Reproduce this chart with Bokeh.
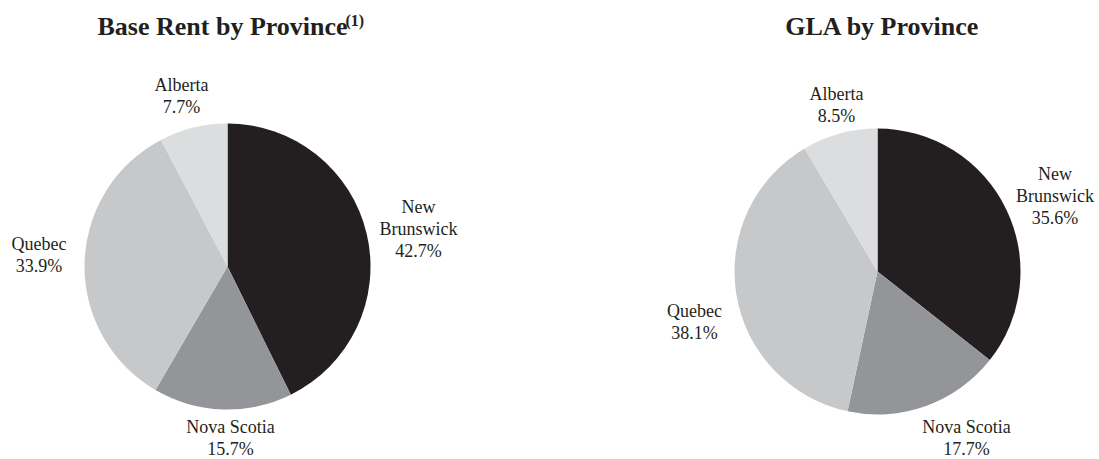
import math
from bokeh.plotting import figure
from bokeh.models import Range1d, ColumnDataSource
from bokeh.core.properties import value
from bokeh.embed import file_html
from bokeh.resources import INLINE

# ---- data ----
provinces = ["New Brunswick", "Nova Scotia", "Quebec", "Alberta"]
base_rent = [42.7, 15.7, 33.9, 7.7]
gla = [35.6, 17.7, 38.1, 8.5]
slice_colors = ["#231f20", "#939598", "#c7c8ca", "#dcddde"]
label_lines = [["New", "Brunswick"], ["Nova Scotia"], ["Quebec"], ["Alberta"]]
titles = ["Base Rent by Province", "GLA by Province"]
title_sup = ["(1)", ""]

# ---- layout (screen pixel coordinates) ----
W, H = 1099, 459
centers = [(227, 266), (877, 271)]
radius = 143
label_offsets = [
    [(191, -36.5), (3, 172), (-188.5, -10.5), (-46, -169.5)],
    [(177.5, -74.5), (89, 167), (-183, 51.5), (-41, -166)],
]
title_pos = [(97, 25.5, "left"), (882, 25.5, "center")]
sup_pos = [(345, 20)]
line_gap = 22
label_base_shift = -1
label_font = value("Liberation Serif")
ink = "#231f20"

p = figure(width=W, height=H, output_backend="svg", toolbar_location=None,
           x_range=Range1d(0, W), y_range=Range1d(0, H),
           min_border=0, border_fill_color="white", background_fill_color="white")
p.axis.visible = False
p.grid.visible = False
p.outline_line_color = None


def sy(y):
    return H - y


for ci, vals in enumerate([base_rent, gla]):
    cx, cy = centers[ci]
    total = sum(vals)
    starts, ends = [], []
    cum = 0.0
    for v in vals:
        a0 = math.pi / 2 - 2 * math.pi * cum / total
        cum += v
        a1 = math.pi / 2 - 2 * math.pi * cum / total
        starts.append(a1)
        ends.append(a0)
    src = ColumnDataSource(dict(x=[cx] * len(vals), y=[sy(cy)] * len(vals),
                                start=starts, end=ends, color=slice_colors))
    p.wedge(x="x", y="y", radius=radius, start_angle="start", end_angle="end",
            direction="anticlock", fill_color="color", line_color=None, source=src)

    # labels
    xs, ys, txt = [], [], []
    for k, name in enumerate(provinces):
        dx, dy = label_offsets[ci][k]
        lines = label_lines[k] + ["%.1f%%" % vals[k]]
        n = len(lines)
        for i, ln in enumerate(lines):
            yc = cy + dy + (i - (n - 1) / 2) * line_gap
            xs.append(cx + dx)
            ys.append(sy(yc + label_base_shift))
            txt.append(ln)
    p.text(x=xs, y=ys, text=txt, text_font=label_font, text_font_size="18px",
           text_align="center", text_baseline="alphabetic", text_color=ink)

    # title
    tx, ty, ta = title_pos[ci]
    p.text(x=[tx], y=[sy(ty)], text=[titles[ci]], text_font=label_font,
           text_font_size="26px", text_font_style="bold", text_align=ta,
           text_baseline="alphabetic", text_color=ink)
    if title_sup[ci]:
        sx, syy = sup_pos[ci]
        p.text(x=[sx], y=[sy(syy)], text=[title_sup[ci]], text_font=label_font,
               text_font_size="16px", text_font_style="bold", text_align="left",
               text_baseline="alphabetic", text_color=ink)

open("out.html", "w").write(file_html(p, INLINE))
